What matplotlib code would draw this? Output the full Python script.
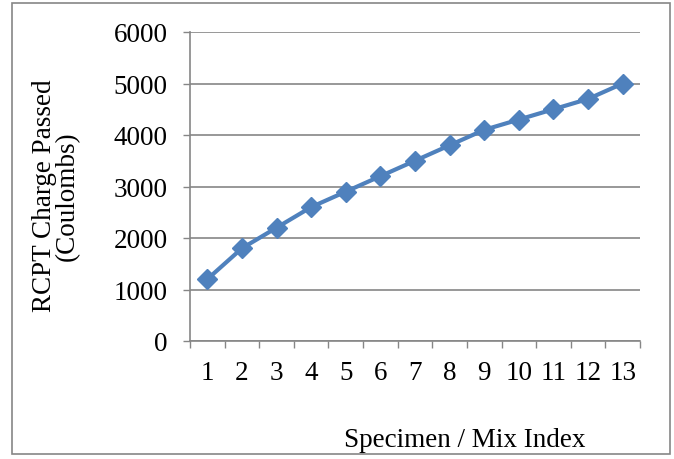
import matplotlib
matplotlib.use('Agg')
from matplotlib import pyplot as plt
import matplotlib as mpl
from matplotlib.patches import Rectangle

mpl.rcParams['font.family'] = ['Liberation Serif', 'DejaVu Serif']

# data
mix_index = [str(i) for i in range(1, 14)]
charge = [1200, 1800, 2200, 2600, 2900, 3200, 3500, 3800, 4100, 4300, 4500, 4700, 5000]

line_color = '#4F81BD'
axis_color = '#868686'
fs = 19.5

fig = plt.figure(figsize=(6.74, 4.6), dpi=100)
ax = fig.add_axes([190/674, 118/460, 450/674, 309/460])

x = list(range(len(charge)))
ax.plot(x, charge, color=line_color, lw=3, marker='D', ms=10, zorder=3)

ax.set_xlim(-0.5, len(charge) - 0.5)
ax.set_ylim(0, 6000)
ax.set_yticks(range(0, 6001, 1000))
ax.set_xticks([i - 0.5 for i in range(len(charge) + 1)])
ax.set_xticklabels([])
ax.set_xticks(x, minor=True)
ax.set_xticklabels(mix_index, minor=True)
ax.tick_params(axis='x', which='minor', length=0, pad=14, labelsize=fs)
ax.tick_params(axis='x', which='major', length=5, width=1, color=axis_color, direction='out')
ax.tick_params(axis='y', length=5, width=1, color=axis_color, labelsize=fs, pad=11)

ax.grid(axis='y', color=axis_color, lw=1.2)
ax.set_axisbelow(True)
for s in ['top', 'right']:
    ax.spines[s].set_visible(False)
for s in ['left', 'bottom']:
    ax.spines[s].set_color(axis_color)
    ax.spines[s].set_linewidth(1.2)

fig.text(56/674, 1 - 196/460, 'RCPT Charge Passed\n(Coulombs)', fontsize=fs,
         rotation=90, ha='center', va='center', multialignment='center', linespacing=0.9)

fig.text(465/674, 1 - 441/460, 'Specimen / Mix Index', fontsize=fs, ha='center', va='center')

# outer border
fig.patches.append(Rectangle((12/674, 5/460), 658/674, 451/460, transform=fig.transFigure,
                             fill=False, edgecolor=axis_color, lw=1.2))

plt.savefig('out.png', dpi=100)
